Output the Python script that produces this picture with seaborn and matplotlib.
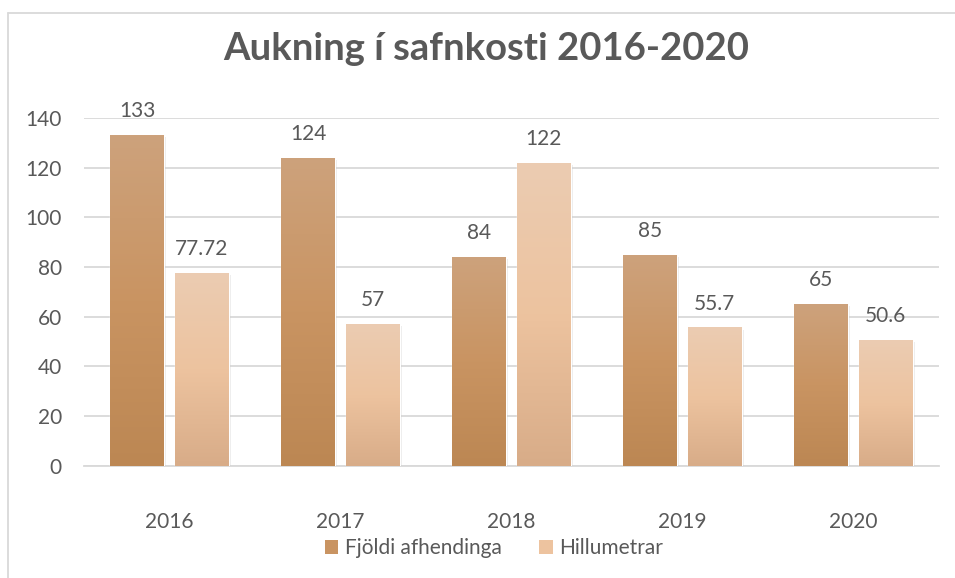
import numpy as np
import pandas as pd
import matplotlib
matplotlib.use("Agg")
import matplotlib.pyplot as plt
import seaborn as sns
from matplotlib.colors import LinearSegmentedColormap
from matplotlib.patches import Patch
from matplotlib.lines import Line2D
import matplotlib.patheffects as pe

years = ["2016", "2017", "2018", "2019", "2020"]
fjoldi = [133, 124, 84, 85, 65]
hillumetrar = [77.72, 57, 122, 55.7, 50.6]
fjoldi_labels = ["133", "124", "84", "85", "65"]
hillu_labels = ["77.72", "57", "122", "55.7", "50.6"]
series_names = ["Fjöldi afhendinga", "Hillumetrar"]
title = "Aukning í safnkosti 2016-2020"

df = pd.DataFrame({
    "year": years * 2,
    "value": fjoldi + hillumetrar,
    "series": [series_names[0]] * 5 + [series_names[1]] * 5,
    "label": fjoldi_labels + hillu_labels,
})

sns.set_theme(style="white")
plt.rcParams["font.family"] = ["Lato", "DejaVu Sans"]
text_color = "#595959"
fs = 15

fig = plt.figure(figsize=(9.55, 5.78), dpi=100)
ax = fig.add_axes([0.088, 0.194, 0.895, 0.602])

mid_colors = ["#C99462", "#EDC5A2"]
sns.barplot(data=df, x="year", y="value", hue="series", palette=mid_colors,
            width=0.76, gap=0.17, ax=ax, legend=False, zorder=3)

ax.set_ylim(0, 140)
ax.set_yticks(range(0, 141, 20))
ax.grid(axis="y", color="#D9D9D9", linewidth=1.3, zorder=0)
ax.grid(axis="x", visible=False)
for s in ["top", "right", "left"]:
    ax.spines[s].set_visible(False)
ax.spines["bottom"].set_color("#D9D9D9")
ax.spines["bottom"].set_linewidth(1.3)
ax.set_xlabel("")
ax.set_ylabel("")
ax.tick_params(axis="both", length=0, labelsize=fs, labelcolor=text_color)
ax.tick_params(axis="x", pad=33)
ax.tick_params(axis="y", pad=16)

grads = [
    ["#BC8753", "#C99462", "#CDA27C"],
    ["#D8AC88", "#EDC39F", "#EBCCB2"],
]
for ci, container in enumerate(ax.containers):
    cmap = LinearSegmentedColormap.from_list(f"g{ci}", grads[ci])
    labels = fjoldi_labels if ci == 0 else hillu_labels
    for bar, lab in zip(container, labels):
        x0, y0 = bar.get_x(), bar.get_y()
        w, h = bar.get_width(), bar.get_height()
        bar.set_path_effects([pe.SimplePatchShadow(offset=(1.5, -1.5), shadow_rgbFace="#9A9A9A", alpha=0.2),
                              pe.Normal()])
        grad = np.linspace(0, 1, 256).reshape(-1, 1)
        im = ax.imshow(grad, cmap=cmap, aspect="auto", origin="lower",
                       extent=[x0, x0 + w, y0, y0 + h], zorder=3.5)
        im.set_clip_path(bar)
        ax.annotate(lab, (x0 + w / 2, y0 + h), xytext=(0, 10), textcoords="offset points",
                    ha="center", va="bottom", fontsize=fs, color=text_color,
                    annotation_clip=False, zorder=5)
ax.set_xlim(-0.5, 4.5)

fig.text(0.509, 0.915, title, ha="center", va="center", fontsize=27.5,
         fontweight="bold", color=text_color)

handles = [Patch(facecolor=grads[0][1], edgecolor="none"),
           Patch(facecolor=grads[1][1], edgecolor="none")]
fig.legend(handles, series_names, loc="center", bbox_to_anchor=(0.517, 0.052),
           ncol=2, frameon=False, fontsize=fs, labelcolor=text_color,
           handlelength=0.65, handleheight=0.65, handletextpad=0.3, columnspacing=1.8)

fig.add_artist(Line2D([0.008, 1.0], [0.9775, 0.9775], color="#D9D9D9", linewidth=1.3,
                      transform=fig.transFigure))
fig.add_artist(Line2D([0.0085, 0.0085], [0.0, 0.9775], color="#D9D9D9", linewidth=1.3,
                      transform=fig.transFigure))

fig.savefig("out.png", dpi=100)
